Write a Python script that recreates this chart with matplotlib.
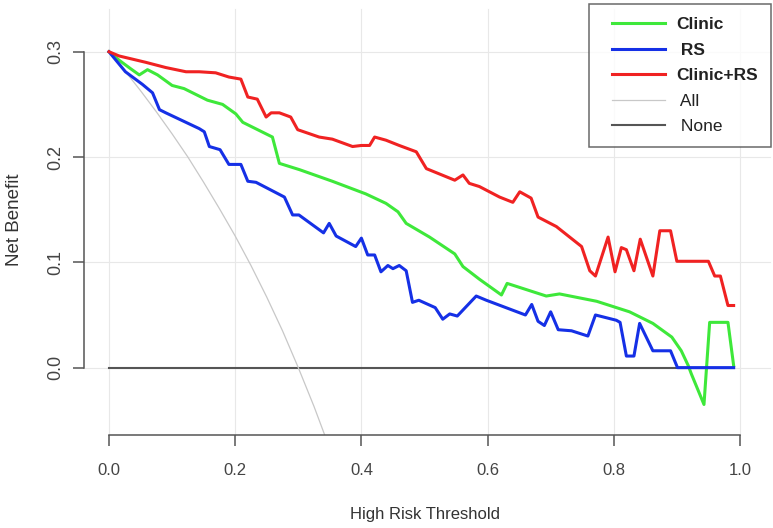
#! /usr/bin/env python3

import matplotlib
matplotlib.use("Agg")
import matplotlib.pyplot as plt
from matplotlib.legend_handler import HandlerLine2D


plt.rcParams['font.family'] = ['Liberation Sans', 'DejaVu Sans']

# Decision curve values (threshold, net benefit).
clinic_x = [0.000, 0.016, 0.034, 0.048, 0.061, 0.077, 0.100, 0.119, 0.156, 0.180,
            0.201, 0.212, 0.259, 0.270, 0.302, 0.354, 0.407, 0.439, 0.458, 0.471,
            0.508, 0.548, 0.561, 0.587, 0.622, 0.631, 0.693, 0.714, 0.773, 0.825,
            0.862, 0.892, 0.907, 0.918, 0.923, 0.943, 0.952, 0.981, 0.990]
clinic_y = [0.300, 0.292, 0.284, 0.278, 0.283, 0.278, 0.268, 0.265, 0.254, 0.250,
            0.241, 0.233, 0.219, 0.194, 0.188, 0.177, 0.165, 0.156, 0.148, 0.137,
            0.124, 0.108, 0.096, 0.084, 0.069, 0.080, 0.068, 0.070, 0.063, 0.053,
            0.042, 0.029, 0.016, 0.002, -0.006, -0.035, 0.043, 0.043, 0.002]

rs_x = [0.000, 0.026, 0.053, 0.069, 0.080, 0.090, 0.143, 0.151, 0.159, 0.176,
        0.190, 0.209, 0.220, 0.233, 0.278, 0.291, 0.301, 0.340, 0.349, 0.360,
        0.391, 0.400, 0.410, 0.421, 0.431, 0.442, 0.450, 0.460, 0.471, 0.481,
        0.491, 0.517, 0.529, 0.540, 0.552, 0.582, 0.598, 0.660, 0.670, 0.680,
        0.690, 0.700, 0.712, 0.733, 0.759, 0.771, 0.804, 0.810, 0.820, 0.832,
        0.841, 0.862, 0.890, 0.901, 0.990]
rs_y = [0.300, 0.281, 0.269, 0.261, 0.245, 0.242, 0.227, 0.224, 0.210, 0.207,
        0.193, 0.193, 0.177, 0.176, 0.162, 0.145, 0.145, 0.128, 0.137, 0.125,
        0.115, 0.123, 0.107, 0.107, 0.091, 0.097, 0.094, 0.097, 0.092, 0.062,
        0.064, 0.057, 0.046, 0.051, 0.049, 0.068, 0.064, 0.050, 0.060, 0.044,
        0.040, 0.053, 0.036, 0.035, 0.030, 0.050, 0.045, 0.043, 0.011, 0.011,
        0.042, 0.016, 0.016, 0.000, 0.000]

combo_x = [0.000, 0.016, 0.037, 0.058, 0.090, 0.122, 0.143, 0.169, 0.190, 0.209,
           0.220, 0.235, 0.249, 0.257, 0.270, 0.288, 0.299, 0.333, 0.354, 0.386,
           0.400, 0.413, 0.421, 0.439, 0.460, 0.487, 0.503, 0.548, 0.561, 0.571,
           0.587, 0.619, 0.640, 0.651, 0.669, 0.680, 0.709, 0.749, 0.762, 0.771,
           0.791, 0.802, 0.812, 0.820, 0.832, 0.842, 0.862, 0.873, 0.890, 0.900,
           0.950, 0.960, 0.969, 0.981, 0.990]
combo_y = [0.300, 0.296, 0.293, 0.290, 0.285, 0.281, 0.281, 0.280, 0.276, 0.274,
           0.257, 0.255, 0.238, 0.242, 0.242, 0.238, 0.226, 0.219, 0.217, 0.210,
           0.211, 0.211, 0.219, 0.216, 0.211, 0.205, 0.189, 0.178, 0.183, 0.175,
           0.172, 0.162, 0.157, 0.167, 0.161, 0.143, 0.134, 0.115, 0.092, 0.087,
           0.124, 0.091, 0.114, 0.112, 0.092, 0.122, 0.087, 0.130, 0.130, 0.101,
           0.101, 0.087, 0.087, 0.059, 0.059]

all_x = [0.000, 0.025, 0.050, 0.075, 0.100, 0.125, 0.150, 0.175, 0.200, 0.225,
         0.250, 0.275, 0.300, 0.325, 0.350]
all_y = [0.300, 0.282, 0.263, 0.243, 0.222, 0.200, 0.176, 0.151, 0.125, 0.097,
         0.067, 0.035, 0.000, -0.037, -0.077]

none_x = [0.0, 0.99]
none_y = [0.0, 0.0]

xticks = [0.0, 0.2, 0.4, 0.6, 0.8, 1.0]
yticks = [0.0, 0.1, 0.2, 0.3]


fig = plt.figure(figsize=(7.73, 5.28), dpi=100)
ax = fig.add_axes([0.1087, 0.1761, 0.8727, 0.7538])

# light grid, drawn a bit past the plot region like the original
for xv in xticks:
    ax.axvline(xv, ymin=0, ymax=1.07, color='#e8e8e8', lw=0.8, zorder=0, clip_on=False)
for yv in yticks:
    ax.axhline(yv, xmin=0, xmax=1.017, color='#e8e8e8', lw=0.8, zorder=0, clip_on=False)

l5, = ax.plot(none_x, none_y, color='#555555', lw=1.5, label=' None', zorder=2)
l4, = ax.plot(all_x, all_y, color='#c8c8c8', lw=0.9, label=' All', zorder=2)
l1, = ax.plot(clinic_x, clinic_y, color='#3ee83a', lw=2.2, label='Clinic', zorder=3)
l2, = ax.plot(rs_x, rs_y, color='#1530e6', lw=2.2, label=' RS', zorder=3)
l3, = ax.plot(combo_x, combo_y, color='#f02222', lw=2.2, label='Clinic+RS', zorder=3)

ax.set_xlim(-0.0396, 1.0296)
ax.set_ylim(-0.064, 0.314)
ax.set_xticks(xticks)
ax.set_yticks(yticks)
ax.set_xticklabels(['0.0', '0.2', '0.4', '0.6', '0.8', '1.0'])
ax.set_yticklabels(['0.0', '0.1', '0.2', '0.3'])

for s in ['top', 'right']:
    ax.spines[s].set_visible(False)
ax.spines['left'].set_bounds(0.0, 0.3)
ax.spines['bottom'].set_bounds(0.0, 1.0)
for s in ['left', 'bottom']:
    ax.spines[s].set_color('#555555')
    ax.spines[s].set_linewidth(1.1)

ax.tick_params(axis='both', direction='out', length=8, width=1.1, color='#555555',
               labelcolor='#444444')
ax.tick_params(axis='x', labelsize=12, pad=12)
ax.tick_params(axis='y', labelsize=13, pad=6)
for lab in ax.get_yticklabels():
    lab.set_rotation(90)
    lab.set_va('center')

fig.text(425 / 773, 1 - 515 / 528, 'High Risk Threshold', ha='center', va='center',
         fontsize=12, color='#333333')
fig.text(15 / 773, 1 - 220 / 528, 'Net Benefit', ha='center', va='center',
         rotation=90, fontsize=13.5, color='#333333')

# legend in the upper right corner of the figure
handles = [l1, l2, l3, l4, l5]
hl = HandlerLine2D(xpad=0.6)
leg = fig.legend(handles, [h.get_label() for h in handles],
                 loc='upper left', bbox_to_anchor=(589 / 773, 1 - 4 / 528),
                 borderaxespad=0, fontsize=12.5, frameon=True, fancybox=False,
                 borderpad=0.75, labelspacing=0.6, handlelength=3.65,
                 handletextpad=0.62, handler_map={l: hl for l in handles})
leg.get_frame().set_edgecolor('#444444')
leg.get_frame().set_linewidth(1.1)
for t in leg.get_texts()[:3]:
    t.set_fontweight('bold')
for t in leg.get_texts():
    t.set_color('#222222')

fig.savefig("out.png", dpi=100)
